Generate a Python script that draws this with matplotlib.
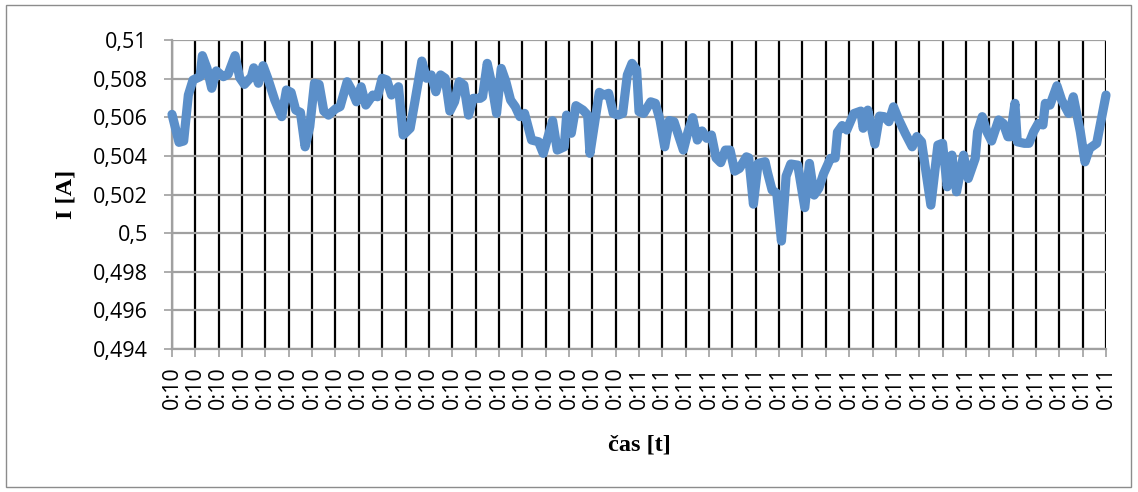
import numpy as np
import matplotlib
matplotlib.use('Agg')
import matplotlib.pyplot as plt
from matplotlib.patches import Rectangle

# sample number (10 samples per labelled tick) and measured current [A]
sample = [
    0, 3, 5, 7, 9, 12, 13, 15, 17, 19, 22, 24, 27, 29, 31, 34, 35, 37, 39, 41,
    44, 47, 49, 51, 53, 55, 57, 59, 61, 63, 65, 67, 70, 72, 75, 77, 79, 81, 83, 86,
    88, 90, 92, 94, 97, 99, 102, 104, 107, 109, 111, 113, 115, 117, 119, 121, 123, 125, 127, 129,
    132, 133, 135, 137, 139, 141, 143, 145, 147, 149, 151, 154, 157, 159, 163, 165, 168, 169, 171, 173,
    176, 178, 179, 183, 185, 187, 189, 191, 193, 195, 197, 199, 200, 202, 205, 207, 209, 211, 213, 215,
    219, 221, 223, 225, 227, 229, 231, 233, 235, 237, 239, 241, 243, 246, 247, 249, 251, 254, 255, 257,
    259, 261, 263, 265, 268, 271, 273, 275, 277, 279, 282, 284, 285, 287, 289, 292, 295, 296, 298, 301,
    303, 305, 307, 309, 311, 314, 317, 319, 321, 325, 328, 330, 332, 334, 336, 339, 341, 344, 345, 347,
    349, 351, 354, 356, 358, 359, 361, 362, 365, 367, 369, 371, 373, 374, 376, 379, 381, 384, 386, 389,
    391, 393, 396, 400,
]
current_a = [
    0.50615, 0.5047, 0.50477, 0.50715, 0.50793, 0.5081, 0.50919, 0.50853, 0.5075, 0.5084,
    0.5081, 0.50822, 0.50919, 0.50805, 0.5077, 0.5081, 0.50856, 0.50776, 0.50867, 0.50802,
    0.50689, 0.50603, 0.50741, 0.50729, 0.50637, 0.50625, 0.50447, 0.50551, 0.50776, 0.5077,
    0.50632, 0.50611, 0.50643, 0.50655, 0.50784, 0.5074, 0.5068, 0.50758, 0.50663, 0.50715,
    0.50706, 0.50802, 0.50793, 0.50715, 0.50758, 0.50508, 0.50543, 0.5068, 0.50891, 0.50802,
    0.50819, 0.50732, 0.50819, 0.50802, 0.50632, 0.5068, 0.50784, 0.50767, 0.50611, 0.50698,
    0.50698, 0.50706, 0.50879, 0.50767, 0.5062, 0.50853, 0.50784, 0.50689, 0.50655, 0.50603,
    0.5062, 0.50482, 0.50473, 0.50413, 0.50582, 0.5043, 0.50447, 0.50611, 0.50517, 0.5066,
    0.50637, 0.50611, 0.50413, 0.50729, 0.50715, 0.50724, 0.5062, 0.50611, 0.5062, 0.50819,
    0.50879, 0.50845, 0.50629, 0.5062, 0.5068, 0.50672, 0.50586, 0.50447, 0.50583, 0.50577,
    0.5043, 0.50525, 0.50598, 0.50482, 0.50529, 0.50491, 0.50508, 0.50389, 0.50365, 0.5043,
    0.5043, 0.50321, 0.50335, 0.50395, 0.5039, 0.5015, 0.50361, 0.5037, 0.50316, 0.50223,
    0.50206, 0.49959, 0.50295, 0.50358, 0.50352, 0.50132, 0.50361, 0.50197, 0.50232, 0.50306,
    0.50387, 0.50389, 0.50523, 0.50557, 0.50534, 0.50619, 0.50632, 0.50543, 0.50637, 0.50461,
    0.50606, 0.50603, 0.50577, 0.50654, 0.50594, 0.50517, 0.50447, 0.5050, 0.50473, 0.50145,
    0.50456, 0.50465, 0.5024, 0.50404, 0.50214, 0.50404, 0.50283, 0.50387, 0.50525, 0.50603,
    0.50525, 0.50477, 0.50586, 0.50568, 0.50499, 0.50499, 0.50672, 0.50473, 0.50465, 0.50465,
    0.50525, 0.50568, 0.5056, 0.50672, 0.50663, 0.50763, 0.50689, 0.5062, 0.50706, 0.50525,
    0.50369, 0.50439, 0.50465, 0.50715,
]

time_labels = ['0:10'] * 20 + ['0:11'] * 21
y_ticks = [0.494, 0.496, 0.498, 0.5, 0.502, 0.504, 0.506, 0.508, 0.51]
y_labels = ['0,494', '0,496', '0,498', '0,5', '0,502', '0,504', '0,506', '0,508', '0,51']

W, H = 1138, 492
fig = plt.figure(figsize=(W / 100, H / 100), dpi=100)
fig.patches.append(Rectangle((6 / W, 1 - 487 / H), (1131 - 6) / W, (487 - 5) / H,
                             transform=fig.transFigure, fill=False,
                             edgecolor='#8c8c8c', linewidth=1.0))

ax = fig.add_axes([172 / W, 1 - 349 / H, (1106 - 172) / W, (349 - 40) / H])

ax.plot(sample, current_a, color='#5B8FC9', linewidth=6.6,
        solid_joinstyle='round', solid_capstyle='round', zorder=3, clip_on=False)

ax.set_xlim(0, 400)
ax.set_ylim(0.494, 0.51)

ax.set_xticks(np.arange(0, 401, 10))
ax.set_xticklabels(time_labels, rotation=90, family='Open Sans', fontsize=15.5)
ax.set_yticks(y_ticks)
ax.set_yticklabels(y_labels, family='Open Sans', fontsize=15.5)

ax.tick_params(axis='x', direction='out', length=5.5, width=1.2, color='#a0a0a0', pad=7)
ax.tick_params(axis='y', direction='out', length=5.5, width=1.2, color='#a0a0a0', pad=12)

ax.grid(axis='x', color='black', linewidth=1.6)
ax.grid(axis='y', color='#a0a0a0', linewidth=1.6)
ax.set_axisbelow(True)

for side in ['top', 'right']:
    ax.spines[side].set_visible(False)
for side in ['left', 'bottom']:
    ax.spines[side].set_color('#a0a0a0')
    ax.spines[side].set_linewidth(1.6)

ax.set_xlabel('čas [t]', family='Liberation Serif', fontweight='bold', fontsize=17.5, labelpad=18)
ax.set_ylabel('I [A]', family='Liberation Serif', fontweight='bold', fontsize=17.5, labelpad=12)

fig.savefig('out.png', dpi=100)
